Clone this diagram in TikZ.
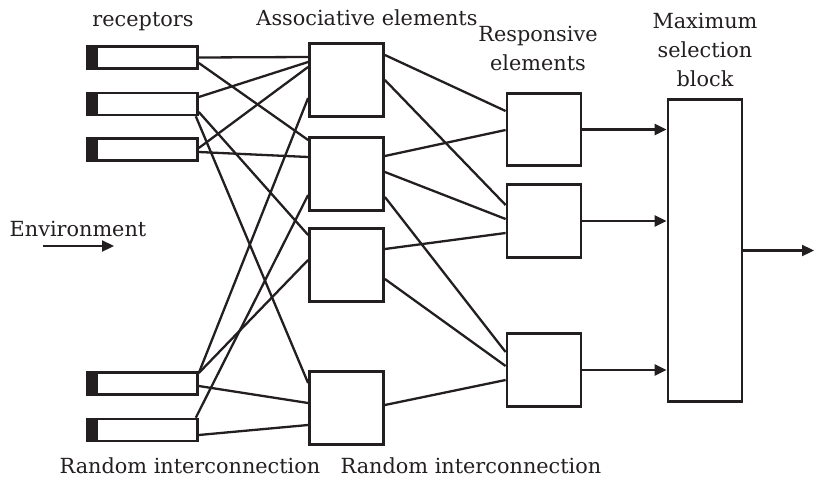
\documentclass[tikz,border=0pt]{standalone}
\usepackage{fontspec}
\setmainfont{DejaVu Serif}
\usetikzlibrary{arrows.meta,calc}
\definecolor{ink}{HTML}{231F20}

\begin{document}
\begin{tikzpicture}[x=1pt,y=-1pt,
  unit/.style={draw=ink, line width=2.8pt, rectangle, inner sep=0pt,
    minimum width=74pt, minimum height=73pt},
  receptor/.style={draw=ink, line width=2.6pt, rectangle, inner sep=0pt,
    minimum width=110pt, minimum height=22pt,
    path picture={\fill[ink] (path picture bounding box.south west)
      rectangle ([xshift=10pt]path picture bounding box.north west);}},
  link/.style={draw=ink, line width=2.3pt},
  arr/.style={link, -{Triangle[length=12pt,width=11pt]}},
  lab/.style={font=\fontsize{20.8}{29}\selectfont, text=ink, anchor=base,
    align=center, inner sep=0pt}]

\useasboundingbox (0,0) rectangle (814,479);

% receptors
\node[receptor] (r1) at (142.5,57.5) {};
\node[receptor] (r2) at (142.5,104) {};
\node[receptor] (r3) at (142.5,149.5) {};
\node[receptor] (r4) at (142.5,383.5) {};
\node[receptor] (r5) at (142.5,430) {};

% associative elements
\node[unit] (a1) at (346.5,80) {};
\node[unit] (a2) at (346.5,174) {};
\node[unit] (a3) at (346.5,265) {};
\node[unit] (a4) at (346.5,408) {};

% responsive elements
\node[unit, minimum height=72pt] (e1) at (544,129.5) {};
\node[unit] (e2) at (544,221) {};
\node[unit] (e3) at (544,370) {};

% maximum selection block
\node[unit, minimum height=302pt] (m) at (705,250.5) {};

% labels (multi-line labels sit on the baseline of their last line)
\node[lab] (lrec) at (143,27) {receptors};
\node[lab] (lass) at (367,25) {Associative elements};
\node[lab] (lres) at (538,70) {Responsive\\elements};
\node[lab] (lmax) at (705,86) {Maximum\\selection\\block};
\node[lab] (lenv) at (78,236) {Environment};
\node[lab] (lri1) at (190,473) {Random interconnection};
\node[lab] (lri2) at (471,473) {Random interconnection};

% environment arrow
\coordinate (env0) at (43,246);
\coordinate (env1) at (114,246);
\draw[arr] (env0) -- (env1);

% receptors to associative elements
\draw[link] (r1.east) -- ([yshift=23pt]a1.west);
\draw[link] ([yshift=-5.5pt]r1.east) -- ([yshift=34pt]a2.west);
\draw[link] ([yshift=7pt]r2.east) -- ([yshift=18pt]a1.west);
\draw[link] ([xshift=-3pt]r2.south east) -- ([yshift=25pt]a4.west);
\draw[link] ([yshift=-8pt]r2.east) -- ([yshift=30pt]a3.west);
\draw[link] ([yshift=1.5pt]r3.east) -- ([yshift=13pt]a1.west);
\draw[link] ([yshift=-2.5pt]r3.east) -- ([yshift=17pt]a2.west);
\draw[link] ([yshift=10.5pt]r4.east) -- ([yshift=-18pt]a1.west);
\draw[link] ([yshift=10.5pt]r4.east) -- ([yshift=5pt]a3.west);
\draw[link] ([yshift=-2.5pt]r4.east) -- ([yshift=5pt]a4.west);
\draw[link] ([xshift=-3pt]r5.north east) -- ([yshift=-21pt]a2.west);
\draw[link] ([yshift=-5pt]r5.east) -- ([yshift=-17pt]a4.west);

% associative to responsive elements
\draw[link] ([yshift=25pt]a1.east) -- ([yshift=18.5pt]e1.west);
\draw[link] (a1.east) -- ([yshift=16pt]e2.west);
\draw[link] ([yshift=18pt]a2.east) -- ([yshift=-0.5pt]e1.west);
\draw[link] ([yshift=2pt]a2.east) -- ([yshift=2pt]e2.west);
\draw[link] ([yshift=-23pt]a2.east) -- ([yshift=18pt]e3.west);
\draw[link] ([yshift=16pt]a3.east) -- ([yshift=-12pt]e2.west);
\draw[link] ([yshift=-14pt]a3.east) -- ([yshift=4pt]e3.west);
\draw[link] ([yshift=3pt]a4.east) -- ([yshift=-10pt]e3.west);

% responsive elements to the selection block
\draw[arr] (e1.east) -- (e1.east -| m.west);
\draw[arr] (e2.east) -- (e2.east -| m.west);
\draw[arr] (e3.east) -- (e3.east -| m.west);

% output
\coordinate (out) at (814,250.5);
\draw[arr] (m.east) -- (out);
\end{tikzpicture}
\end{document}
